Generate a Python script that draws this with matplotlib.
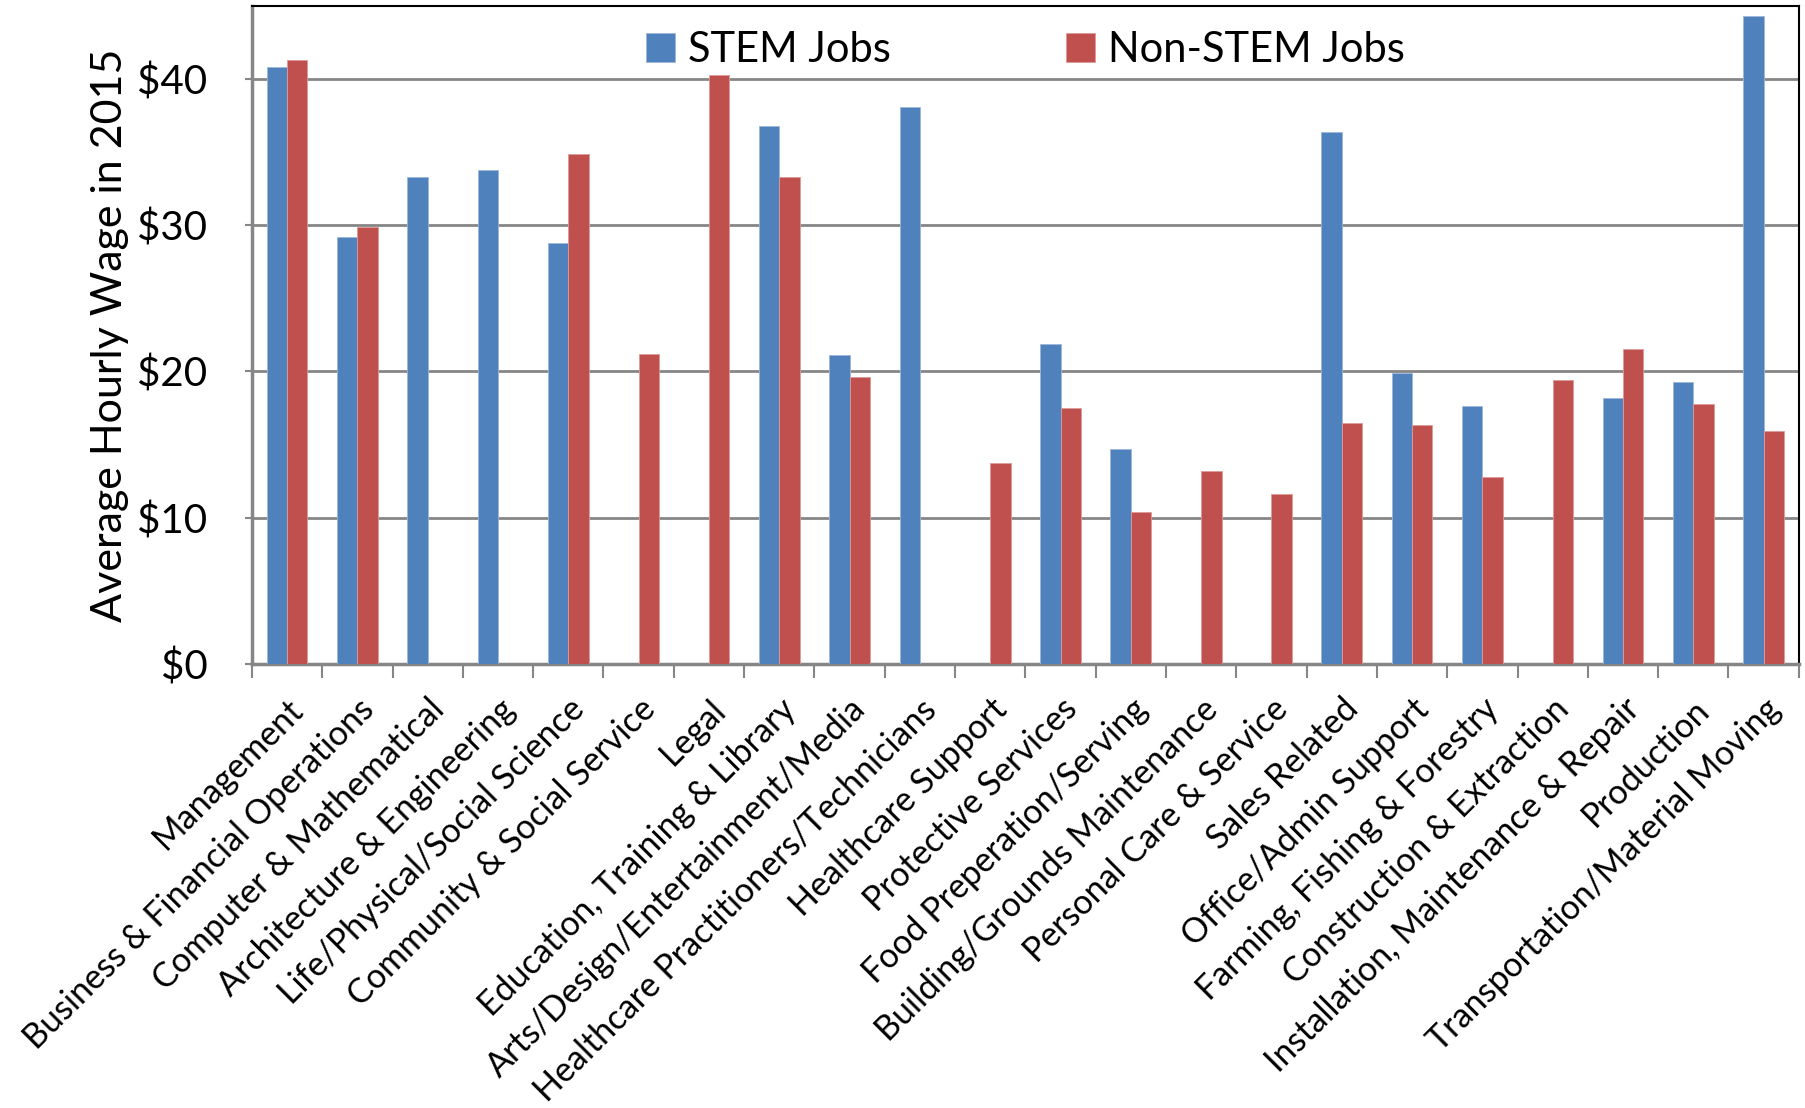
import matplotlib
matplotlib.use("Agg")
import matplotlib.pyplot as plt
import matplotlib.transforms as mtransforms
import numpy as np

categories = [
    "Management", "Business & Financial Operations", "Computer & Mathematical",
    "Architecture & Engineering", "Life/Physical/Social Science",
    "Community & Social Service", "Legal", "Education, Training & Library",
    "Arts/Design/Entertainment/Media", "Healthcare Practitioners/Technicians",
    "Healthcare Support", "Protective Services", "Food Preperation/Serving",
    "Building/Grounds Maintenance", "Personal Care & Service", "Sales Related",
    "Office/Admin Support", "Farming, Fishing & Forestry",
    "Construction & Extraction", "Installation, Maintenance & Repair",
    "Production", "Transportation/Material Moving",
]
# nan = no bar in that category
stem = [40.8, 29.2, 33.3, 33.8, 28.8, np.nan, np.nan, 36.8, 21.1, 38.1,
        np.nan, 21.9, 14.7, np.nan, np.nan, 36.4, 19.9, 17.6, np.nan, 18.2,
        19.3, 44.3]
non_stem = [41.3, 29.9, np.nan, np.nan, 34.9, 21.2, 40.3, 33.3, 19.6, np.nan,
            13.7, 17.5, 10.4, 13.2, 11.6, 16.5, 16.3, 12.8, 19.4, 21.5,
            17.8, 15.9]
yticks = [0, 10, 20, 30, 40]

BLUE = "#4F81BD"
RED = "#C0504D"
GRID = "#868686"

plt.rcParams["font.family"] = ["Lato", "DejaVu Sans"]

fig = plt.figure(figsize=(18.06, 11.08), dpi=100)
ax = fig.add_axes([0.1395, 0.401, 0.8565, 0.5936])

x = np.arange(len(categories))
w = 0.29
ax.bar(x - w / 2, stem, w, color=BLUE, edgecolor="#9DB7DA", linewidth=0.6,
       label="STEM Jobs", zorder=3)
ax.bar(x + w / 2, non_stem, w, color=RED, edgecolor="#DD9A98", linewidth=0.6,
       label="Non-STEM Jobs", zorder=3)

ax.set_xlim(-0.5, len(categories) - 0.5)
ax.set_ylim(0, 45)
ax.set_yticks(yticks)
ax.set_yticklabels([f"${v}" for v in yticks], fontsize=29)
ax.yaxis.grid(True, color=GRID, linewidth=2, zorder=0)

ax.set_xticks(x)
ax.set_xticklabels(categories, rotation=45, ha="right", va="top",
                   rotation_mode="anchor", fontsize=24.5)
# labels sit a little right of the category centre, like the original
shift = mtransforms.ScaledTranslation(0.08, 0, fig.dpi_scale_trans)
for lbl in ax.get_xticklabels():
    lbl.set_transform(lbl.get_transform() + shift)
ax.set_xticks(np.arange(len(categories) + 1) - 0.5, minor=True)
ax.tick_params(axis="x", which="major", length=0, pad=21)
ax.tick_params(axis="x", which="minor", length=10, width=1.5, color=GRID)
ax.tick_params(axis="y", length=5, width=1.5, color=GRID, pad=27)

for side in ("left", "bottom"):
    ax.spines[side].set_color(GRID)
    ax.spines[side].set_linewidth(2.5)
for side in ("top", "right"):
    ax.spines[side].set_color("black")
    ax.spines[side].set_linewidth(1.5)

ax.set_ylabel("Average Hourly Wage in 2015", fontsize=31, labelpad=6)

ax.legend(loc="upper center", bbox_to_anchor=(0.5, 1.0), ncol=2, frameon=False,
          fontsize=30, handlelength=0.7, handleheight=0.7, handletextpad=0.3,
          columnspacing=4.2, borderaxespad=0.2)

fig.savefig("out.png", dpi=100)
